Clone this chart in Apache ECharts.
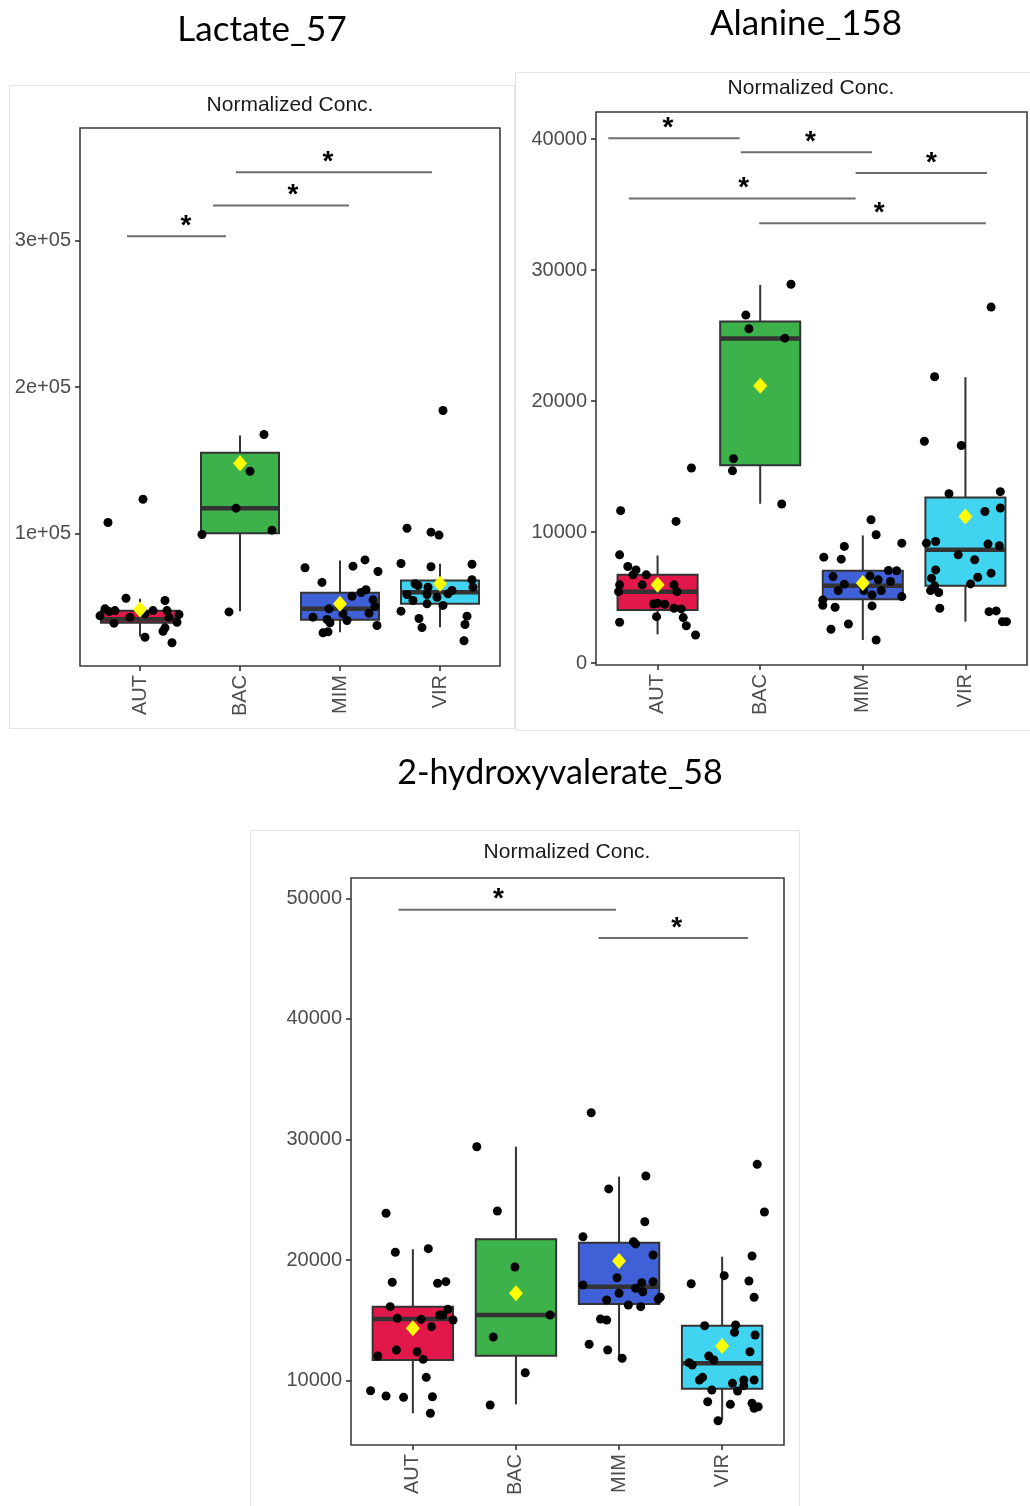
<!DOCTYPE html>
<html>
<head>
<meta charset="utf-8">
<script src="https://cdn.jsdelivr.net/npm/echarts@6/dist/echarts.min.js"></script>
<style>
  html, body { margin: 0; padding: 0; background: #ffffff; }
  #chart { width: 1030px; height: 1506px; }
</style>
</head>
<body>
<div id="chart"></div>
<script>
// Groups shown on every x axis
const groups = ['AUT', 'BAC', 'MIM', 'VIR'];

// ---------- Lactate_57 ----------
// box statistics per group: [lower whisker, Q1, median, Q3, upper whisker]
const lactateStats = [
  [29700, 39000, 41500, 47300, 55400],
  [46960, 100200, 117300, 155100, 166900],
  [32600, 41100, 48600, 59500, 81600],
  [36000, 52000, 59900, 67900, 79300]
];
const lactateMeans = [48100, 148000, 52000, 65700];
const lactatePoints = [
  [107500, 123400, 55800, 54300, 48600, 43800, 47400, 38800, 42900, 47400, 47400, 42900, 39400, 44700, 35600, 33300, 29200, 25400, 46800, 45200],
  [167600, 142500, 117300, 99300, 102300, 46500],
  [76600, 77700, 82000, 74100, 66600, 61600, 59700, 57200, 54700, 50200, 48600, 45600, 42900, 41300, 39000, 45200, 40600, 37200, 32200, 32900],
  [184000, 103600, 100900, 98900, 79500, 77300, 79000, 68400, 65700, 64500, 63300, 63300, 61100, 58800, 58400, 58400, 56500, 54300, 52000, 50900, 47000, 42000, 43600, 35800, 37900, 26800]
];
// horizontal jitter of each point, in category units
const lactateJitter = [
  [-0.32, 0.03, -0.14, 0.25, -0.35, -0.40, -0.25, -0.26, -0.10, 0.13, 0.27, 0.29, 0.37, 0.39, 0.25, 0.23, 0.05, 0.32, -0.31, 0.05],
  [0.24, 0.10, -0.04, -0.38, 0.32, -0.11],
  [-0.35, 0.13, 0.25, 0.38, -0.18, 0.26, 0.21, 0.12, 0.33, 0.35, -0.11, 0.29, -0.27, -0.13, -0.10, 0.03, 0.07, 0.37, -0.17, -0.12],
  [0.03, -0.33, -0.09, -0.01, -0.39, -0.09, 0.32, 0.32, -0.25, -0.22, -0.12, 0.33, 0.12, 0.08, -0.33, -0.13, -0.03, -0.27, -0.13, 0.03, -0.39, -0.21, 0.27, -0.18, 0.25, 0.24]
];
// significance bars: [from, to, level, star position]
const lactateSig = [
  [1.96, 3.92, 346600, 2.88],
  [1.73, 3.09, 323900, 2.53],
  [0.87, 1.86, 302900, 1.46]
];
const lactateTicks = [100000, 200000, 300000];

// ---------- Alanine_158 ----------
const alanineStats = [
  [2190, 4050, 5450, 6730, 8210],
  [12160, 15090, 24780, 26060, 28860],
  [1760, 4870, 5890, 7040, 9740],
  [3160, 5890, 8640, 12640, 21820]
];
const alanineMeans = [5970, 21160, 6100, 11190];
const alaninePoints = [
  [11630, 14890, 10810, 8260, 7370, 7110, 6730, 6730, 5970, 5970, 5450, 5970, 5450, 4510, 4560, 4490, 4180, 4130, 3540, 3470, 3110, 2850, 2140],
  [28910, 26560, 25520, 24800, 15600, 14680, 12140],
  [10940, 9790, 8900, 9150, 8080, 7930, 6600, 7060, 7040, 6650, 6350, 6020, 6220, 5530, 5530, 5530, 5200, 5070, 4820, 4410, 4260, 4360, 2580, 2980, 1760],
  [27170, 21850, 16930, 16600, 12930, 13080, 11830, 11570, 9150, 9280, 9080, 8950, 8260, 7880, 7110, 6860, 6550, 6480, 6040, 5890, 5530, 5380, 4180, 3920, 3980, 3160, 3160]
];
const alanineJitter = [
  [-0.36, 0.33, 0.18, -0.37, -0.29, -0.21, -0.24, -0.11, -0.15, -0.37, -0.38, 0.16, 0.19, -0.04, 0.00, 0.07, 0.16, 0.23, -0.01, 0.25, -0.37, 0.28, 0.37],
  [0.30, -0.14, -0.11, 0.24, -0.26, -0.27, 0.21],
  [0.08, 0.13, -0.18, 0.38, -0.38, -0.21, -0.29, 0.25, 0.33, 0.07, 0.15, -0.18, 0.27, -0.24, 0.01, 0.18, 0.09, 0.38, -0.39, -0.39, -0.27, 0.09, -0.31, -0.14, 0.13],
  [0.25, -0.30, -0.40, -0.04, -0.16, 0.34, 0.34, 0.19, -0.38, -0.29, 0.22, 0.33, -0.07, 0.09, -0.29, 0.25, 0.12, -0.33, 0.05, -0.30, -0.34, -0.26, -0.25, 0.23, 0.30, 0.36, 0.40]
];
const alanineSig = [
  [0.52, 1.80, 40050, 1.10],
  [1.81, 3.09, 38980, 2.49],
  [2.93, 4.21, 37400, 3.67],
  [0.72, 2.93, 35460, 1.84],
  [1.99, 4.20, 33570, 3.16]
];
const alanineTicks = [0, 10000, 20000, 30000, 40000];

// ---------- 2-hydroxyvalerate_58 ----------
const hydroxyStats = [
  [7300, 11720, 15120, 16140, 20900],
  [8040, 12070, 15450, 21720, 29400],
  [11860, 16360, 17800, 21440, 26920],
  [6740, 9340, 11440, 14560, 20280]
];
const hydroxyMeans = [14340, 17250, 19930, 12880];
const hydroxyPoints = [
  [23880, 20650, 20950, 18160, 18080, 18210, 16140, 15920, 15450, 15450, 15170, 15090, 15030, 14480, 12550, 12400, 12050, 11770, 10280, 9170, 8730, 8620, 8670, 7300],
  [29400, 24070, 19430, 15450, 13620, 10660, 7990],
  [32220, 26970, 25900, 23180, 21940, 21530, 21340, 20420, 18540, 18210, 18130, 17940, 17660, 17380, 17250, 16920, 16750, 16690, 16280, 16140, 15120, 15030, 13020, 12550, 11860],
  [27940, 23990, 20340, 18710, 18040, 18270, 16920, 14560, 14620, 14010, 13790, 12400, 12050, 11720, 11490, 11300, 10280, 10060, 9780, 10060, 9590, 10060, 9150, 9230, 8260, 8040, 8130, 7710, 7840, 6680]
];
const hydroxyJitter = [
  [-0.26, -0.17, 0.15, -0.20, 0.24, 0.32, -0.22, 0.34, 0.26, 0.29, -0.15, 0.08, 0.39, 0.18, -0.16, 0.04, -0.34, 0.10, 0.13, -0.41, -0.26, -0.09, 0.19, 0.17],
  [-0.38, -0.18, -0.01, 0.33, -0.22, 0.09, -0.25],
  [-0.27, 0.26, -0.10, 0.25, -0.35, 0.14, 0.16, 0.33, -0.02, 0.33, 0.22, -0.35, 0.16, 0.23, 0.00, 0.40, 0.38, -0.12, 0.09, 0.21, -0.18, -0.12, -0.29, -0.11, 0.03],
  [0.34, 0.41, 0.29, 0.02, -0.30, 0.26, 0.31, -0.17, 0.13, 0.12, 0.32, 0.27, -0.13, -0.08, -0.32, -0.29, -0.19, -0.22, 0.10, 0.21, 0.21, 0.31, 0.15, -0.10, -0.14, 0.08, 0.29, 0.31, 0.35, -0.04]
];
const hydroxySig = [
  [0.86, 2.97, 49050, 1.83],
  [2.80, 4.25, 46700, 3.56]
];
const hydroxyTicks = [10000, 20000, 30000, 40000, 50000];

// ---------- styling ----------
const boxColors = ['#E2184A', '#3DB24B', '#3F60D6', '#41D4F1'];
const inkColor = '#333333';
const tickFont = 'Liberation Sans';

const panels = [
  {
    name: 'Lactate_57', stats: lactateStats, means: lactateMeans, points: lactatePoints,
    jitter: lactateJitter, sig: lactateSig, ticks: lactateTicks,
    fmt: v => (v / 100000) + 'e+05',
    grid: { left: 80, top: 128, width: 420, height: 538 }, yMin: 9560, yMax: 376800,
    titleXY: [262, 30], subXY: [290, 105], card: [9.5, 85.5, 505, 643], titleSize: 35
  },
  {
    name: 'Alanine_158', stats: alanineStats, means: alanineMeans, points: alaninePoints,
    jitter: alanineJitter, sig: alanineSig, ticks: alanineTicks,
    fmt: v => String(v),
    grid: { left: 596, top: 112, width: 431, height: 553 }, yMin: -150, yMax: 42060,
    titleXY: [806, 24], subXY: [811, 88], card: [515.5, 72.5, 520, 658], titleSize: 35
  },
  {
    name: '2-hydroxyvalerate_58', stats: hydroxyStats, means: hydroxyMeans, points: hydroxyPoints,
    jitter: hydroxyJitter, sig: hydroxySig, ticks: hydroxyTicks,
    fmt: v => String(v),
    grid: { left: 351, top: 878, width: 433, height: 567 }, yMin: 4670, yMax: 51680,
    titleXY: [560, 773], subXY: [567, 852], card: [250.5, 830.5, 549, 680], titleSize: 34
  }
];

function renderBox(params, api) {
  const x = api.value(0);
  const lo = api.coord([x, api.value(1)]);
  const q1 = api.coord([x, api.value(2)]);
  const md = api.coord([x, api.value(3)]);
  const q3 = api.coord([x, api.value(4)]);
  const hi = api.coord([x, api.value(5)]);
  const w = api.size([0.78, 0])[0];
  const cx = lo[0];
  const stroke = { stroke: inkColor, lineWidth: 2 };
  return {
    type: 'group',
    children: [
      { type: 'line', shape: { x1: cx, y1: hi[1], x2: cx, y2: q3[1] }, style: stroke },
      { type: 'line', shape: { x1: cx, y1: q1[1], x2: cx, y2: lo[1] }, style: stroke },
      { type: 'rect', shape: { x: cx - w / 2, y: q3[1], width: w, height: q1[1] - q3[1] },
        style: { fill: boxColors[params.dataIndex], stroke: inkColor, lineWidth: 2 } },
      { type: 'line', shape: { x1: cx - w / 2, y1: md[1], x2: cx + w / 2, y2: md[1] },
        style: { stroke: inkColor, lineWidth: 4.5 } }
    ]
  };
}

function renderSig(params, api) {
  const a = api.coord([api.value(0), api.value(2)]);
  const b = api.coord([api.value(1), api.value(2)]);
  const s = api.coord([api.value(3), api.value(2)]);
  return {
    type: 'group',
    children: [
      { type: 'line', shape: { x1: a[0], y1: a[1], x2: b[0], y2: b[1] },
        style: { stroke: '#6e6e6e', lineWidth: 2 } },
      { type: 'text', x: s[0], y: s[1] - 10,
        style: { text: '*', fill: '#000000', font: 'bold 28px "Liberation Sans"',
                 align: 'center', verticalAlign: 'middle' } }
    ]
  };
}

const grids = [], xAxes = [], yAxes = [], series = [], graphics = [];

panels.forEach((p, i) => {
  grids.push(Object.assign({ show: true, borderColor: '#3d3d3d', borderWidth: 1.6, backgroundColor: 'transparent' }, p.grid));

  xAxes.push({
    type: 'value', gridIndex: i, min: 0.4, max: 4.6,
    splitLine: { show: false },
    axisLine: { show: false, onZero: false },
    axisTick: { show: true, customValues: [1, 2, 3, 4], length: 5, lineStyle: { color: inkColor, width: 1.6 } },
    axisLabel: {
      customValues: [1, 2, 3, 4], formatter: v => groups[Math.round(v) - 1],
      rotate: 90, margin: 9, color: '#4d4d4d', fontSize: 20, fontFamily: tickFont
    }
  });

  yAxes.push({
    type: 'value', gridIndex: i, min: p.yMin, max: p.yMax,
    splitLine: { show: false },
    axisLine: { show: false, onZero: false },
    axisTick: { show: true, customValues: p.ticks, length: 5, lineStyle: { color: inkColor, width: 1.6 } },
    axisLabel: {
      customValues: p.ticks, formatter: p.fmt, margin: 9,
      color: '#4d4d4d', fontSize: 20, fontFamily: tickFont
    }
  });

  series.push({
    type: 'custom', xAxisIndex: i, yAxisIndex: i, z: 2,
    renderItem: renderBox,
    data: p.stats.map((s, k) => [k + 1].concat(s)),
    silent: true
  });

  const pts = [];
  p.points.forEach((vals, k) => {
    vals.forEach((v, j) => pts.push([k + 1 + p.jitter[k][j], v]));
  });
  series.push({
    type: 'scatter', xAxisIndex: i, yAxisIndex: i, z: 3,
    symbol: 'circle', symbolSize: 9,
    itemStyle: { color: '#000000', opacity: 1 },
    data: pts, silent: true
  });

  series.push({
    type: 'scatter', xAxisIndex: i, yAxisIndex: i, z: 4,
    symbol: 'diamond', symbolSize: [14, 16],
    itemStyle: { color: '#FFFF00', opacity: 1 },
    data: p.means.map((m, k) => [k + 1, m]), silent: true
  });

  series.push({
    type: 'custom', xAxisIndex: i, yAxisIndex: i, z: 5,
    renderItem: renderSig, data: p.sig, silent: true
  });

  // panel card outline
  graphics.push({
    type: 'rect', z: 0,
    shape: { x: p.card[0], y: p.card[1], width: p.card[2], height: p.card[3] },
    style: { fill: 'none', stroke: '#e4e4e4', lineWidth: 1 }
  });
  // metabolite name above the panel
  graphics.push({
    type: 'text', x: p.titleXY[0], y: p.titleXY[1],
    style: { text: p.name, font: p.titleSize + 'px Lato', fill: '#000000', align: 'center', verticalAlign: 'middle' }
  });
  // plot title
  graphics.push({
    type: 'text', x: p.subXY[0], y: p.subXY[1],
    style: { text: 'Normalized Conc.', font: '21px "Liberation Sans"', fill: '#1a1a1a', align: 'center', verticalAlign: 'middle' }
  });
});

const chart = echarts.init(document.getElementById('chart'), null, { renderer: 'canvas' });
chart.setOption({
  animation: false,
  backgroundColor: '#ffffff',
  grid: grids,
  xAxis: xAxes,
  yAxis: yAxes,
  series: series,
  graphic: { elements: graphics }
});
</script>
</body>
</html>
